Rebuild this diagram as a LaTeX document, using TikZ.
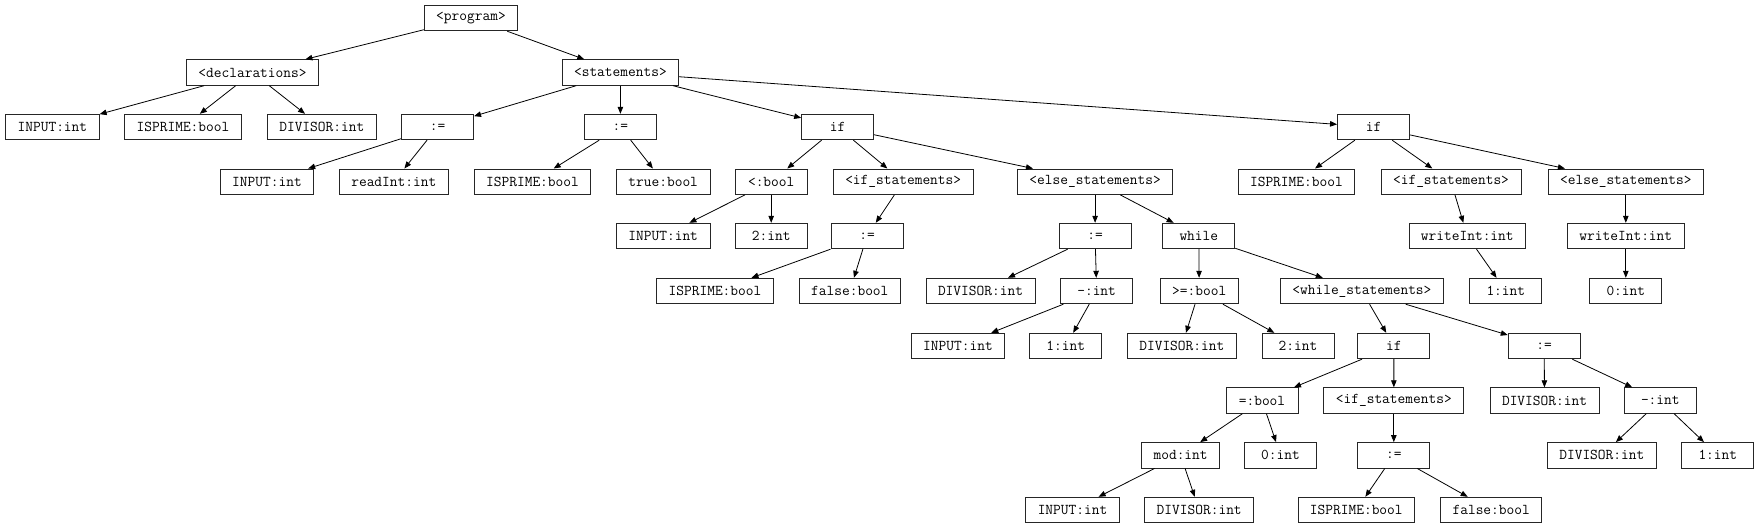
\documentclass[tikz,border=0pt]{standalone}
\usepackage{fontspec}
\usetikzlibrary{arrows.meta}
\begin{document}
\begin{tikzpicture}[x=1pt,y=-1pt,
  tn/.style={draw=black!85, line width=0.9pt, font=\ttfamily\fontsize{15}{16}\selectfont,
    minimum width=72pt, minimum height=25.5pt, inner xsep=12pt, inner ysep=0pt},
  ed/.style={-{Triangle[length=7pt,width=5.5pt]}, line width=0.8pt}]
\useasboundingbox (0,0) rectangle (1759,528);
% row 1
\node[tn] (prog) at (471,18) {<program>};
% row 2
\node[tn] (decl) at (252.5,72.5) {<declarations>};
\node[tn] (stmt) at (620.4,72.5) {<statements>};
% row 3
\node[tn] (dinput) at (52.4,127) {INPUT:int};
\node[tn] (disprime) at (183,127) {ISPRIME:bool};
\node[tn] (ddivisor) at (321.8,127) {DIVISOR:int};
\node[tn] (asgA) at (437.6,127) {:=};
\node[tn] (asgB) at (620.4,127) {:=};
\node[tn] (ifA) at (837.6,127) {if};
\node[tn] (ifB) at (1373.5,127) {if};
% row 4
\node[tn] (aAinput) at (267,181.7) {INPUT:int};
\node[tn] (aAread) at (393.8,181.7) {readInt:int};
\node[tn] (aBisprime) at (532.5,181.7) {ISPRIME:bool};
\node[tn] (aBtrue) at (663.2,181.7) {true:bool};
\node[tn] (lt) at (771.2,181.7) {<:bool};
\node[tn] (ifsA) at (903.2,181.7) {<if\_statements>};
\node[tn] (elsA) at (1095.1,181.7) {<else\_statements>};
\node[tn] (ifBisprime) at (1296.4,181.7) {ISPRIME:bool};
\node[tn] (ifsB) at (1451,181.7) {<if\_statements>};
\node[tn] (elsB) at (1625.8,181.7) {<else\_statements>};
% row 5
\node[tn] (ltinput) at (663.2,236) {INPUT:int};
\node[tn] (lttwo) at (771.2,236) {2:int};
\node[tn] (ifsAasg) at (867,236) {:=};
\node[tn] (elsAasg) at (1095.1,236) {:=};
\node[tn] (while) at (1198.8,236) {while};
\node[tn] (writeA) at (1467.3,236) {writeInt:int};
\node[tn] (writeB) at (1625.8,236) {writeInt:int};
% row 6
\node[tn] (ifsAisprime) at (715,291) {ISPRIME:bool};
\node[tn] (ifsAfalse) at (849.8,291) {false:bool};
\node[tn] (eadivisor) at (980.5,291) {DIVISOR:int};
\node[tn] (minusA) at (1096.6,291) {-:int};
\node[tn] (ge) at (1199.2,291) {>=:bool};
\node[tn] (whs) at (1361.9,291) {<while\_statements>};
\node[tn] (oneA) at (1505.8,291) {1:int};
\node[tn] (zeroA) at (1625.8,291) {0:int};
% row 7
\node[tn] (minput) at (958,346) {INPUT:int};
\node[tn] (mone) at (1065.8,346) {1:int};
\node[tn] (gedivisor) at (1181.8,346) {DIVISOR:int};
\node[tn] (getwo) at (1298,346) {2:int};
\node[tn] (ifC) at (1393.9,346) {if};
\node[tn] (wasg) at (1544.2,346) {:=};
% row 8
\node[tn] (eq) at (1262,400.5) {=:bool};
\node[tn] (ifsC) at (1393.8,400.5) {<if\_statements>};
\node[tn] (wadivisor) at (1544.5,400.5) {DIVISOR:int};
\node[tn] (minusB) at (1660.3,400.5) {-:int};
% row 9
\node[tn] (mod) at (1180.6,455.3) {mod:int};
\node[tn] (zeroB) at (1280.5,455.3) {0:int};
\node[tn] (ifsCasg) at (1393.8,455.3) {:=};
\node[tn] (mBdivisor) at (1601.8,455.3) {DIVISOR:int};
\node[tn] (mBone) at (1717.8,455.3) {1:int};
% row 10
\node[tn] (modinput) at (1072.5,510) {INPUT:int};
\node[tn] (moddivisor) at (1199.2,510) {DIVISOR:int};
\node[tn] (iCisprime) at (1356.3,510) {ISPRIME:bool};
\node[tn] (iCfalse) at (1491.2,510) {false:bool};
% edges
\foreach \a/\b in {prog/decl, prog/stmt,
  decl/dinput, decl/disprime, decl/ddivisor,
  stmt/asgA, stmt/asgB, stmt/ifA, stmt/ifB,
  asgA/aAinput, asgA/aAread, asgB/aBisprime, asgB/aBtrue,
  ifA/lt, ifA/ifsA, ifA/elsA,
  ifB/ifBisprime, ifB/ifsB, ifB/elsB,
  lt/ltinput, lt/lttwo, ifsA/ifsAasg, elsA/elsAasg, elsA/while,
  ifsB/writeA, elsB/writeB,
  ifsAasg/ifsAisprime, ifsAasg/ifsAfalse,
  elsAasg/eadivisor, elsAasg/minusA, while/ge, while/whs,
  writeA/oneA, writeB/zeroA,
  minusA/minput, minusA/mone, ge/gedivisor, ge/getwo,
  whs/ifC, whs/wasg,
  ifC/eq, ifC/ifsC, wasg/wadivisor, wasg/minusB,
  eq/mod, eq/zeroB, ifsC/ifsCasg, minusB/mBdivisor, minusB/mBone,
  mod/modinput, mod/moddivisor, ifsCasg/iCisprime, ifsCasg/iCfalse}
  \draw[ed] (\a) -- (\b);
\end{tikzpicture}
\end{document}
